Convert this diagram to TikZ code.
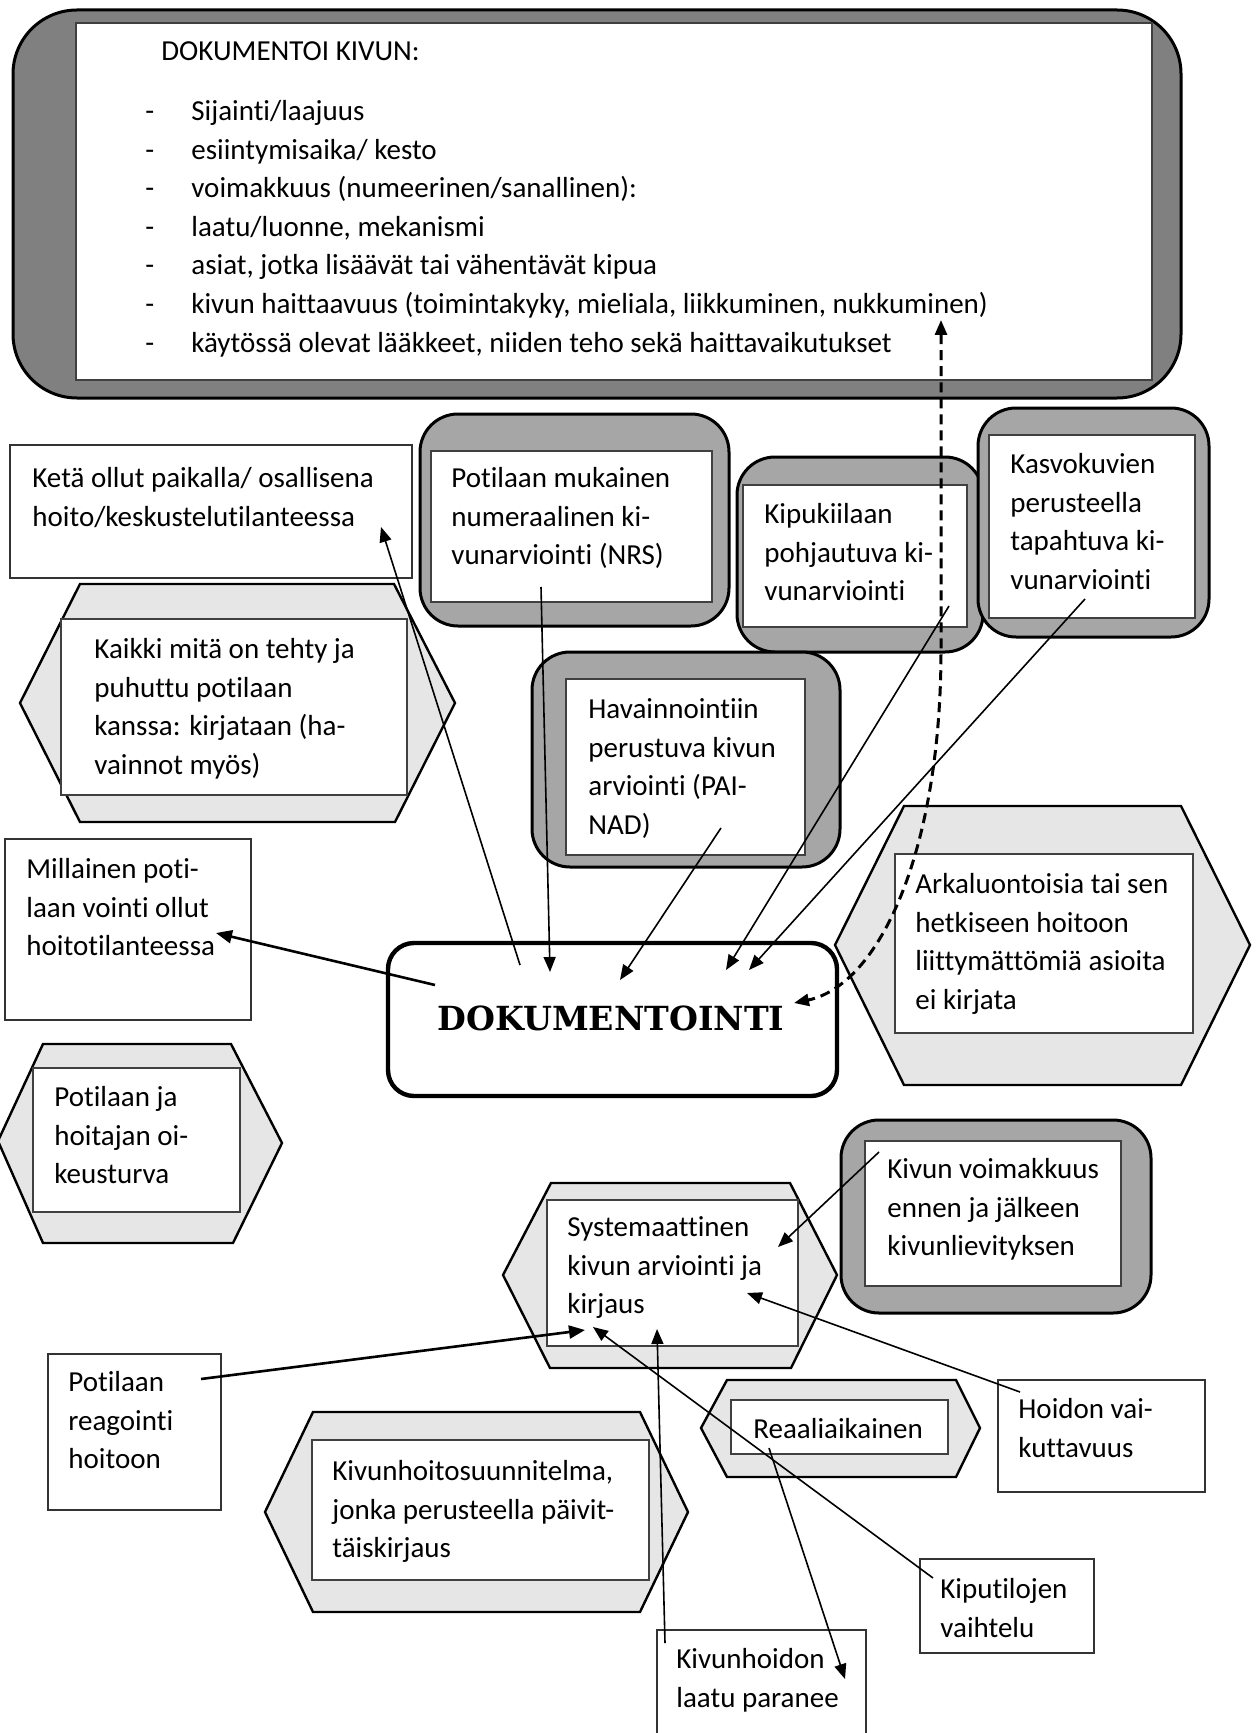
\documentclass[tikz,border=0pt]{standalone}
\usepackage{fontspec}
\newfontfamily\bodyfont{Carlito}[Ligatures={NoCommon}]
\newfontfamily\headfont{DejaVu Serif}
\usetikzlibrary{arrows.meta}

\definecolor{darkfill}{HTML}{808080}
\definecolor{midfill}{HTML}{A6A6A6}
\definecolor{lightfill}{HTML}{E6E6E6}

\newcommand\dashitem[1]{\makebox[23pt][l]{-}#1}

\tikzset{
  txt/.style={anchor=north west, yshift=13.51pt, inner sep=0pt, align=left,
    font=\bodyfont\fontsize{14.5}{19.3}\selectfont},
  topframe/.style={fill=darkfill, draw=black, line width=1.5pt, rounded corners=32pt},
  graybox/.style={fill=midfill, draw=black, line width=1.5pt, rounded corners=19pt},
  innerwhite/.style={fill=white, draw=black!75, line width=0.8pt},
  plainbox/.style={fill=white, draw=black!80, line width=0.8pt},
  hexshape/.style={fill=lightfill, draw=black, line width=1.2pt, line join=miter},
  mainbox/.style={fill=white, draw=black, line width=2.2pt, rounded corners=13pt},
  conn/.style={line width=0.8pt, -{Triangle[length=7.5pt,width=6pt]}},
  thickconn/.style={line width=1.3pt, -{Triangle[length=8pt,width=6.5pt]}},
  dashconn/.style={line width=1.5pt, dash pattern=on 5pt off 3pt,
    {Triangle[length=7.5pt,width=6pt]}-{Triangle[length=7.5pt,width=6pt]}},
}

\begin{document}
\begin{tikzpicture}[x=0.5pt, y=-0.5pt]
\useasboundingbox (0,0) rectangle (1259,1733);

% ---------- documentation checklist ----------
\draw[topframe] (13,10) rectangle (1181,398);
\draw[innerwhite] (76,23) rectangle (1152,380);
\node[txt] (doctitle) at (161,60) {\strut DOKUMENTOI KIVUN:};
\node[txt] (doclist) at (145,120) {\strut\dashitem{Sijainti/laajuus}\\
  \dashitem{esiintymisaika/ kesto}\\
  \dashitem{voimakkuus (numeerinen/sanallinen):}\\
  \dashitem{laatu/luonne, mekanismi}\\
  \dashitem{asiat, jotka lisäävät tai vähentävät kipua}\\
  \dashitem{kivun haittaavuus (toimintakyky, mieliala, liikkuminen, nukkuminen)}\\
  \dashitem{käytössä olevat lääkkeet, niiden teho sekä haittavaikutukset}};

% ---------- plain boxes ----------
\draw[plainbox] (10,445) rectangle (412,578);
\node[txt] (keta) at (32,487) {\strut Ketä ollut paikalla/ osallisena\\hoito/keskustelutilanteessa};

\draw[plainbox] (5,839) rectangle (251,1020);
\node[txt] (millainen) at (26,878) {\strut Millainen poti-\\laan vointi ollut\\hoitotilanteessa};

\draw[plainbox] (48,1354) rectangle (221,1510);
\node[txt] (reagointi) at (68,1391) {\strut Potilaan\\reagointi\\hoitoon};

\draw[plainbox] (998,1380) rectangle (1205,1492);
\node[txt] (hoidon) at (1018,1418) {\strut Hoidon vai-\\kuttavuus};

\draw[plainbox] (920,1559) rectangle (1094,1653);
\node[txt] (kiputilat) at (940,1598) {\strut Kiputilojen\\vaihtelu};

\draw[plainbox] (657,1630) rectangle (866,1760);
\node[txt] (laatu) at (676,1668) {\strut Kivunhoidon\\laatu paranee};

% ---------- hexagons ----------
\draw[hexshape] (80,584) -- (394,584) -- (455,703) -- (395,822) -- (80,822) -- (20,703) -- cycle;
\draw[innerwhite] (61,619) rectangle (407,795);
\node[txt] (kaikki) at (94,658) {\strut Kaikki mitä on tehty ja\\puhuttu potilaan\\kanssa: kirjataan (ha-\\vainnot myös)};

\draw[hexshape] (43,1044) -- (231,1044) -- (282,1143) -- (233,1243) -- (43,1243) -- (-2,1141) -- cycle;
\draw[innerwhite] (33,1068) rectangle (240,1212);
\node[txt] (oikeusturva) at (54,1106) {\strut Potilaan ja\\hoitajan oi-\\keusturva};

\draw[hexshape] (904,806) -- (1181,806) -- (1250,945) -- (1181,1085) -- (904,1085) -- (835,945) -- cycle;
\draw[innerwhite] (895,854) rectangle (1193,1033);
\node[txt] (arkaluontoisia) at (915,893) {\strut Arkaluontoisia tai sen\\hetkiseen hoitoon\\liittymättömiä asioita\\ei kirjata};

\draw[hexshape] (551,1183) -- (790,1183) -- (837,1275) -- (791,1368) -- (550,1368) -- (503,1275) -- cycle;
\draw[innerwhite] (547,1200) rectangle (798,1346);
\node[txt] (systemaattinen) at (567,1236) {\strut Systemaattinen\\kivun arviointi ja\\kirjaus};

\draw[hexshape] (313,1412) -- (640,1412) -- (688,1512) -- (640,1612) -- (313,1612) -- (265,1512) -- cycle;
\draw[innerwhite] (312,1440) rectangle (649,1580);
\node[txt] (suunnitelma) at (332,1480) {\strut Kivunhoitosuunnitelma,\\jonka perusteella päivit-\\täiskirjaus};

\draw[hexshape] (727,1380) -- (956,1380) -- (980,1428) -- (956,1477) -- (727,1477) -- (701,1428) -- cycle;
\draw[innerwhite] (731,1400) rectangle (948,1454);
\node[txt] (reaali) at (753,1438) {\strut Reaaliaikainen};

% ---------- pain assessment scales ----------
\draw[graybox] (420,414) rectangle (729,626);
\draw[innerwhite] (431,451) rectangle (712,602);
\node[txt] (nrs) at (451,487) {\strut Potilaan mukainen\\numeraalinen ki-\\vunarviointi (NRS)};

\draw[graybox] (737,457) rectangle (983,652);
\draw[innerwhite] (743,485) rectangle (967,627);
\node[txt] (kipukiila) at (764,523) {\strut Kipukiilaan\\pohjautuva ki-\\vunarviointi};

\draw[graybox] (978,408) rectangle (1209,637);
\draw[innerwhite] (989,435) rectangle (1195,618);
\node[txt] (kasvo) at (1010,473) {\strut Kasvokuvien\\perusteella\\tapahtuva ki-\\vunarviointi};

\draw[graybox] (532,652) rectangle (840,867);
\draw[innerwhite] (566,679) rectangle (805,855);
\node[txt] (painad) at (588,718) {\strut Havainnointiin\\perustuva kivun\\arviointi (PAI-\\NAD)};

\draw[graybox] (841,1120) rectangle (1151,1313);
\draw[innerwhite] (865,1141) rectangle (1121,1286);
\node[txt] (voimakkuus) at (887,1178) {\strut Kivun voimakkuus\\ennen ja jälkeen\\kivunlievityksen};

% ---------- central node ----------
\draw[mainbox] (388,943) rectangle (837,1096);
\node[font=\headfont\bfseries\fontsize{16.6}{20}\selectfont, inner sep=0pt, anchor=base]
  (dok) at (611,1030) {DOKUMENTOINTI};

% ---------- connector end points ----------
\coordinate (dA) at (520,965);   \coordinate (ketaT) at (381,527);
\coordinate (nrsS) at (541,587); \coordinate (dB) at (550,972);
\coordinate (paiS) at (721,828); \coordinate (dC) at (620,980);
\coordinate (kipS) at (949,606); \coordinate (dD) at (726,970);
\coordinate (kasS) at (1085,599); \coordinate (dE) at (749,970);
\coordinate (dF) at (435,985);   \coordinate (milT) at (216,933);
\coordinate (listT) at (941,320); \coordinate (dG) at (794,1003);
\coordinate (voiS) at (879,1152); \coordinate (sysH) at (778,1247);
\coordinate (reaS) at (201,1379); \coordinate (sysI) at (585,1330);
\coordinate (hoiS) at (1020,1392); \coordinate (sysJ) at (747,1293);
\coordinate (kipuS) at (933,1578); \coordinate (sysK) at (593,1327);
\coordinate (laaS) at (665,1643); \coordinate (sysL) at (657,1329);
\coordinate (reaaliS) at (769,1448); \coordinate (laaT) at (845,1679);

% ---------- connectors ----------
\draw[conn] (dA) -- (ketaT);
\draw[conn] (nrsS) -- (dB);
\draw[conn] (paiS) -- (dC);
\draw[conn] (kipS) -- (dD);
\draw[conn] (kasS) -- (dE);
\draw[thickconn] (dF) -- (milT);
\draw[dashconn] (listT) -- (941,650) .. controls (941,850) and (880,985) .. (dG);
\draw[conn] (voiS) -- (sysH);
\draw[thickconn] (reaS) -- (sysI);
\draw[conn] (hoiS) -- (sysJ);
\draw[conn] (kipuS) -- (sysK);
\draw[conn] (laaS) -- (sysL);
\draw[conn] (reaaliS) -- (laaT);
\end{tikzpicture}
\end{document}
